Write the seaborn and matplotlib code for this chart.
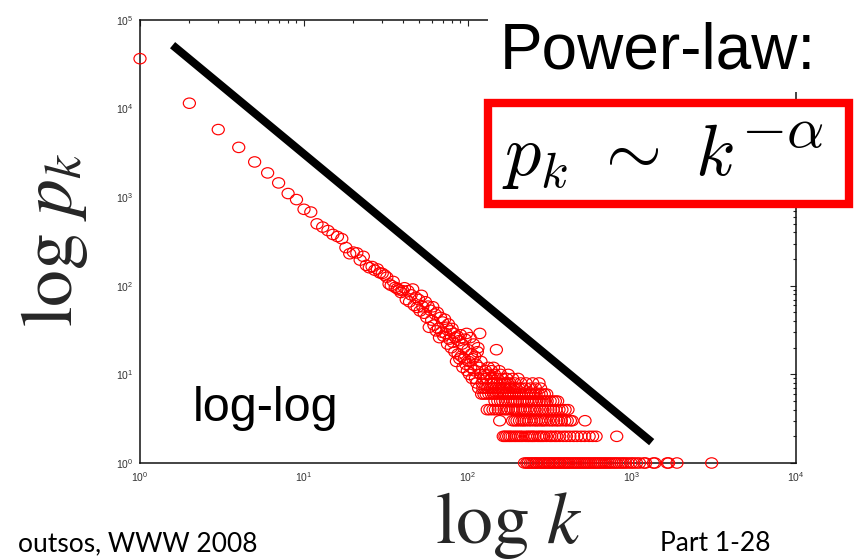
import numpy as np
import pandas as pd
import matplotlib
matplotlib.use("Agg")
import matplotlib.pyplot as plt
import seaborn as sns
from matplotlib.patches import Rectangle
from matplotlib.path import Path
from matplotlib.transforms import Affine2D
from matplotlib.ticker import LogLocator, FuncFormatter, NullFormatter, FixedLocator

# ---------------- data ----------------
# counts p_k for degrees k = 1, 2, 3, ... (one value per consecutive degree)
head_counts = [36600, 11500, 5800, 3650, 2500, 1880, 1450, 1100, 940, 730,
               680, 500, 460, 420, 380, 360, 340, 270, 230, 240,
               235, 195, 215, 170, 160, 165, 150, 155, 140, 138,
               132, 125, 105, 101, 112, 96, 93, 90, 84, 88,
               95, 70, 88, 66, 79, 92, 60, 74, 57, 70,
               52, 78, 58, 49, 66, 44, 59, 34, 53, 41,
               58, 36, 48, 31, 50, 33, 26, 44, 30, 39,
               27, 42, 29, 34, 22, 37, 25, 31, 20, 33,
               23, 29, 18, 26, 14, 27, 17, 24, 15, 28,
               16, 22, 12, 20, 15, 25, 13, 29, 11, 19,
               14, 10, 26, 12, 17, 9, 15, 22, 11, 16,
               9, 13, 8, 18, 20, 7, 12, 29, 10, 14]

# tail: degrees observed at each small count level
tail_k_c1 = [221, 228, 233, 240, 246, 252, 259, 263, 271, 278, 284, 291, 297,
             305, 312, 318, 327, 334, 343, 351, 359, 366, 377, 386, 394, 405,
             413, 425, 436, 447, 458, 470, 482, 494, 507, 520, 534, 547, 561,
             578, 592, 607, 624, 640, 657, 676, 693, 714, 733, 755, 781, 802,
             829, 858, 884, 913, 947, 986, 1020, 1065, 1110, 1180, 1210, 1350,
             1380, 1640, 1670, 1880, 3060]
tail_k_c2 = [164, 168, 172, 177, 181, 186, 192, 197, 203, 209, 215, 224, 231,
             237, 244, 249, 256, 266, 274, 281, 289, 301, 315, 324, 338, 348,
             362, 381, 398, 418, 441, 462, 489, 515, 548, 575, 604, 807]
tail_k_c3 = [156, 187, 193, 199, 206, 213, 219, 226, 235, 243, 253, 261, 269,
             279, 287, 296, 309, 321, 332, 346, 356, 371, 389, 403, 421, 432, 517]
tail_k_c4 = [131, 136, 142, 147, 153, 159, 166, 171, 176, 183, 189, 195, 201,
             208, 216, 222, 230, 239, 247, 255, 264, 276, 285, 295, 307, 319,
             331, 344, 359, 374, 391, 407]
tail_k_c5 = [146, 152, 158, 163, 169, 175, 182, 188, 194, 200, 207, 214, 220,
             229, 236, 245, 254, 262, 272, 283, 293, 304, 317, 329, 341, 352]
tail_k_c6 = [121, 125, 129, 134, 139, 144, 149, 155, 161, 167, 173, 179, 185,
             191, 198, 205, 211, 218, 227, 234, 242, 251, 260, 270, 280, 292, 302]
tail_k_c7 = [123, 127, 132, 137, 141, 148, 154, 160, 165, 170, 178, 184, 190,
             196, 204, 212, 225, 241, 258, 277]
tail_k_c8 = [122, 138, 143, 150, 157, 168, 174, 180, 193, 210, 226, 248, 271]
tail_k_c9 = [124, 130, 140, 151, 162, 172, 187, 202]
tail_k_c10 = [126, 135, 145, 158, 176]
tail_k_c11 = [128, 139, 155]
tail_k_c12 = [133, 143]
tail_k_c19 = [149]

# fitted power-law guide line (end points)
line_k = [1.58, 1318]
line_p = [5.2e4, 1.72]

tick_exponents_x = [0, 1, 2, 3, 4]
tick_exponents_y = [0, 1, 2, 3, 4, 5]

# ---------------- build table ----------------
rows = [(k + 1, c) for k, c in enumerate(head_counts)]
for level, ks in [(1, tail_k_c1), (2, tail_k_c2), (3, tail_k_c3), (4, tail_k_c4),
                  (5, tail_k_c5), (6, tail_k_c6), (7, tail_k_c7), (8, tail_k_c8),
                  (9, tail_k_c9), (10, tail_k_c10), (11, tail_k_c11),
                  (12, tail_k_c12), (19, tail_k_c19)]:
    rows += [(k, level) for k in ks]
df = pd.DataFrame(rows, columns=["k", "p"])
line_df = pd.DataFrame({"k": line_k, "p": line_p})

# ---------------- figure ----------------
sns.set_style("white")
plt.rcParams['font.family'] = ['Liberation Sans', 'DejaVu Sans']

W, H = 856, 560
fig = plt.figure(figsize=(W / 100, H / 100), dpi=100)
ax_l, ax_r, ax_t, ax_b = 140, 796, 20, 463
ax = fig.add_axes([ax_l / W, 1 - ax_b / H, (ax_r - ax_l) / W, (ax_b - ax_t) / H])

ellipse = Path.unit_circle().transformed(Affine2D().scale(1.0, 0.86))
sns.scatterplot(data=df, x="k", y="p", ax=ax, marker=ellipse, s=76,
                color="#ff0000", facecolor="none", edgecolor="#ff0000",
                linewidth=0.85, clip_on=False, zorder=3, legend=False)
sns.lineplot(data=line_df, x="k", y="p", ax=ax, color="black", lw=5.8,
             solid_capstyle="butt", zorder=4, legend=False)

ax.set_xscale("log")
ax.set_yscale("log")
ax.set_xlim(1, 1e4)
ax.set_ylim(1, 1e5)

ax.xaxis.set_major_locator(FixedLocator([10.0 ** e for e in tick_exponents_x]))
ax.yaxis.set_major_locator(FixedLocator([10.0 ** e for e in tick_exponents_y]))
for axis in (ax.xaxis, ax.yaxis):
    axis.set_minor_locator(LogLocator(base=10, subs=np.arange(2, 10), numticks=100))
    axis.set_minor_formatter(NullFormatter())
fmt = FuncFormatter(lambda v, pos: r"$\mathregular{10^{%d}}$" % int(round(np.log10(v))))
ax.xaxis.set_major_formatter(fmt)
ax.yaxis.set_major_formatter(fmt)
ax.tick_params(which="both", direction="in", top=True, right=True,
               colors="#222222", labelcolor="#333333", labelsize=7.5, width=0.8)
ax.tick_params(which="major", length=4, pad=5)
ax.tick_params(which="minor", length=2.2)
for sp in ax.spines.values():
    sp.set_color("#111111")
    sp.set_linewidth(1.1)

# axis labels
ax.set_xlabel(r"$\log\,k$", fontsize=53, math_fontfamily="stix",
              ha="left", va="baseline")
ax.xaxis.set_label_coords((435 - ax_l) / (ax_r - ax_l), (ax_b - 543) / (ax_b - ax_t))
ax.set_ylabel(r"$\log\,p_k$", fontsize=53, math_fontfamily="stix",
              rotation=90, rotation_mode="anchor", ha="left", va="baseline")
ax.yaxis.set_label_coords((72 - ax_l) / (ax_r - ax_l), (ax_b - 327) / (ax_b - ax_t))

ax.text((193 - ax_l) / (ax_r - ax_l), (ax_b - 420.7) / (ax_b - ax_t), "log-log",
        transform=ax.transAxes, fontsize=35, ha="left", va="baseline", color="black")

# title block: "Power-law:" and boxed formula
fig.add_artist(Rectangle((488 / W, 1 - 92 / H), (W - 488) / W, 92 / H,
                         transform=fig.transFigure, facecolor="white",
                         edgecolor="none", zorder=5))
fig.text(500 / W, 1 - 68.3 / H, "Power-law:", fontsize=46, ha="left",
         va="baseline", color="black", zorder=6)
fig.add_artist(Rectangle((488 / W, 1 - 204 / H), (849 - 488) / W, (204 - 103) / H,
                         transform=fig.transFigure, facecolor="white",
                         edgecolor="#ff0000", lw=6, zorder=5))
fig.text(502 / W, 1 - 175 / H, r"$p_k\ \sim\ k$", fontsize=52,
         math_fontfamily="cm", ha="left", va="baseline", color="black", zorder=6)
fig.text(741 / W, 1 - 147 / H, r"$-\alpha$", fontsize=42,
         math_fontfamily="cm", ha="left", va="baseline", color="black", zorder=6)

# footer
fig.text(258 / W, 1 - 551 / H, "outsos, WWW 2008", fontsize=19,
         family=["Lato", "DejaVu Sans"], ha="right", va="baseline", color="black")
fig.text(660 / W, 1 - 551 / H, "Part 1-28", fontsize=19,
         family=["Lato", "DejaVu Sans"], ha="left", va="baseline", color="black")

fig.savefig("out.png", dpi=100, facecolor="white")
